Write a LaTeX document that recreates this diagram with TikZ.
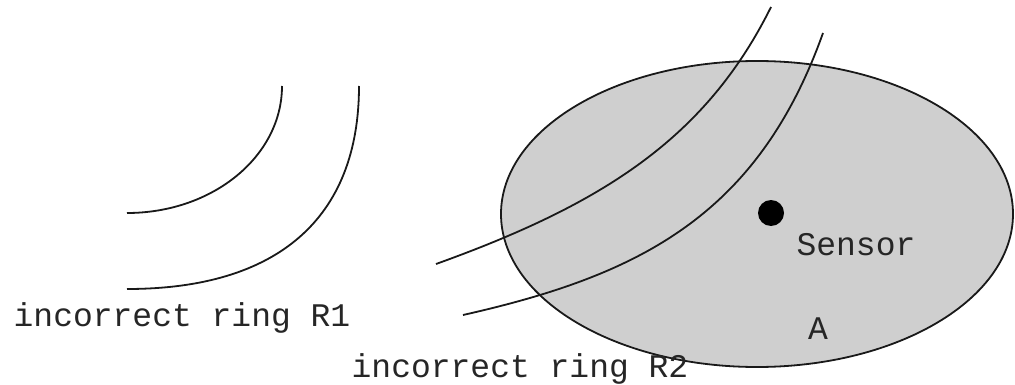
\documentclass[tikz,border=0pt]{standalone}
\usepackage{fontspec}
\setmonofont{Liberation Mono}
\begin{document}
\begin{tikzpicture}[x=1pt,y=-1pt,
  ring/.style={line width=1.8pt, black!90},
  lbl/.style={font=\fontsize{33}{36}\selectfont\ttfamily, text=black!85, inner sep=0pt},
  area/.style={fill=black!19, draw=black!90, line width=1.8pt}]
\useasboundingbox (0,0) rectangle (1015,385);
% sensing area
\draw[area] (757,214) ellipse [x radius=256, y radius=153];
% left rings
\draw[ring] (282,86) .. controls (282,156) and (213,213) .. (127,213);
\draw[ring] (359,86) .. controls (359,218) and (278,289) .. (127,289);
% right rings
\draw[ring] (771,7) .. controls (705,140) and (600,205) .. (436,264);
\draw[ring] (823,33) .. controls (757,218) and (636,276) .. (463,315);
% sensor
\node[circle, fill=black, minimum size=26pt, inner sep=0pt] (sensor) at (771,213) {};
\node[lbl, anchor=base] (sensorlbl) at (856,255) {Sensor};
\node[lbl, anchor=base] (alabel) at (818,339) {A};
\node[lbl, anchor=base] (r1) at (182,326) {incorrect ring R1};
\node[lbl, anchor=base] (r2) at (520,377) {incorrect ring R2};
\end{tikzpicture}
\end{document}
